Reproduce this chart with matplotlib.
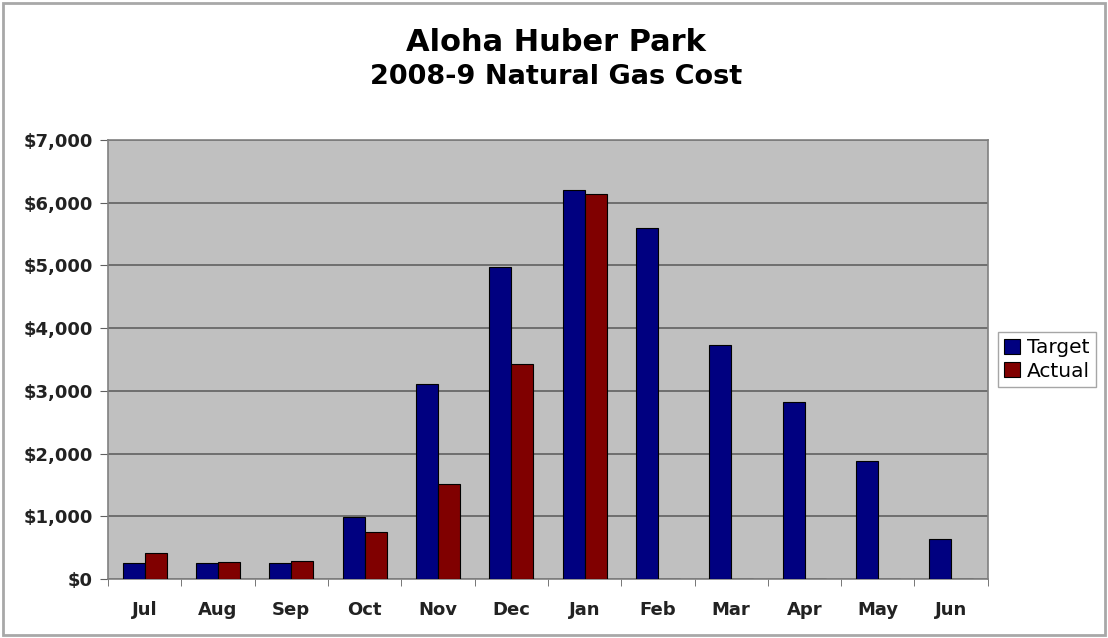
import numpy as np
import matplotlib.pyplot as plt
from matplotlib.ticker import FuncFormatter, FixedLocator
from matplotlib.patches import Rectangle

plt.rcParams['font.family'] = ['DejaVu Sans']

months = ['Jul', 'Aug', 'Sep', 'Oct', 'Nov', 'Dec', 'Jan', 'Feb', 'Mar', 'Apr', 'May', 'Jun']
target = [255, 255, 255, 990, 3110, 4980, 6210, 5590, 3730, 2815, 1875, 635]
actual = [415, 270, 285, 745, 1515, 3425, 6140, 0, 0, 0, 0, 0]

fig = plt.figure(figsize=(11.08, 6.38), dpi=100)
fig.patches.append(Rectangle((0.003, 0.005), 0.994, 0.99, transform=fig.transFigure,
                             fill=False, edgecolor='#a8a8a8', linewidth=2))
ax = fig.add_axes([0.0975, 0.0925, 0.794, 0.688])

x = np.arange(len(months))
w = 0.3
ax.bar(x - w/2, target, w, color='#000080', edgecolor='black', linewidth=0.8, label='Target', zorder=3)
ax.bar(x + w/2, actual, w, color='#800000', edgecolor='black', linewidth=0.8, label='Actual', zorder=3)

ax.set_facecolor('#c0c0c0')
ax.set_xlim(-0.5, len(months) - 0.5)
ax.set_ylim(0, 7000)
ax.set_yticks(np.arange(0, 7001, 1000))
ax.yaxis.set_major_formatter(FuncFormatter(lambda v, p: '${:,.0f}'.format(v)))
ax.grid(axis='y', color='#606060', linewidth=1.2, zorder=0)

ax.set_xticks(x)
ax.set_xticklabels(months)
ax.xaxis.set_minor_locator(FixedLocator(np.arange(-0.5, len(months), 1)))
ax.tick_params(axis='x', which='major', length=0, pad=16, labelsize=13)
ax.tick_params(axis='x', which='minor', length=5, color='#606060')
ax.tick_params(axis='y', length=6, color='#606060', labelsize=13, pad=5)
for lab in ax.get_xticklabels() + ax.get_yticklabels():
    lab.set_color('#222222')
    lab.set_fontweight('bold')

for s in ax.spines.values():
    s.set_color('#808080')
    s.set_linewidth(1.2)

fig.text(0.502, 0.934, 'Aloha Huber Park', ha='center', va='center', fontsize=22, fontweight='bold')
fig.text(0.502, 0.880, '2008-9 Natural Gas Cost', ha='center', va='center', fontsize=19.5, fontweight='bold')

ax.legend(loc='center left', bbox_to_anchor=(1.012, 0.5), frameon=True, fancybox=False,
          edgecolor='#909090', fontsize=14.5, handlelength=0.8, handleheight=0.8,
          handletextpad=0.3, borderpad=0.3, labelspacing=0.2, borderaxespad=0)

fig.savefig('out.png', dpi=100)
